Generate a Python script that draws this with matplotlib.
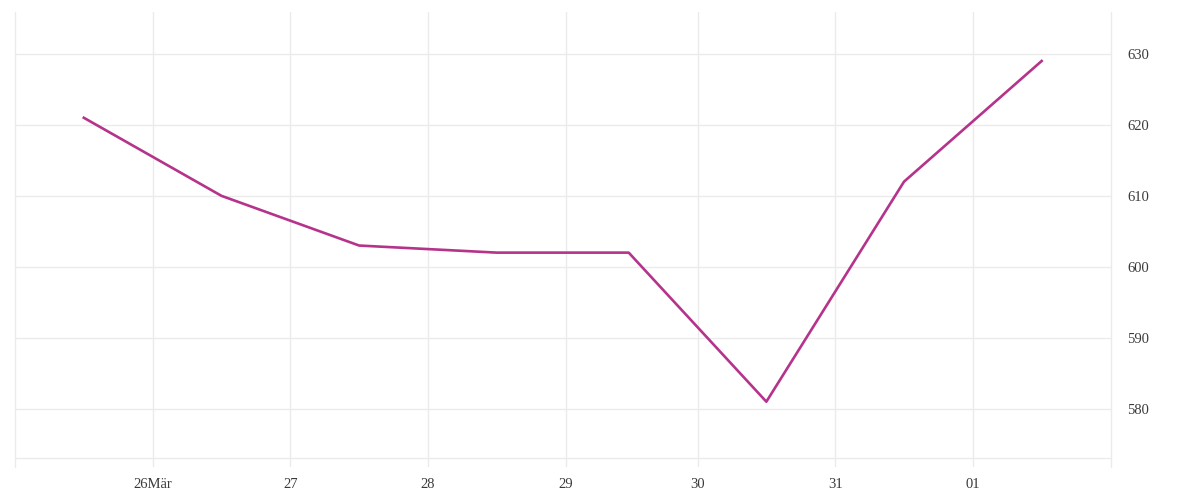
import matplotlib
matplotlib.use("Agg")
import matplotlib.pyplot as plt
from datetime import datetime

# Data (timestamps as placed on the axis, UTC; local clock change shifts later points by 1h)
dates = [datetime(2025, 3, 25, 12), datetime(2025, 3, 26, 12), datetime(2025, 3, 27, 12),
         datetime(2025, 3, 28, 12), datetime(2025, 3, 29, 11), datetime(2025, 3, 30, 11),
         datetime(2025, 3, 31, 11), datetime(2025, 4, 1, 11)]
values = [621, 610, 603, 602, 602, 581, 612, 629]
tick_dates = [datetime(2025, 3, 26, 0), datetime(2025, 3, 27, 0), datetime(2025, 3, 28, 0),
              datetime(2025, 3, 29, 0), datetime(2025, 3, 29, 23), datetime(2025, 3, 30, 23),
              datetime(2025, 3, 31, 23)]
tick_labels = ["26Mär", "27", "28", "29", "30", "31", "01"]
y_ticks = [580, 590, 600, 610, 620, 630]

fig = plt.figure(figsize=(12, 5), dpi=100)
ax = fig.add_axes([15/1200, (500-467)/500, (1110.5-15)/1200, (467-12)/500])

ax.plot(dates, values, color="#b5338a", linewidth=1.9, solid_joinstyle="round", zorder=3)

ax.set_xlim(datetime(2025, 3, 25, 0), datetime(2025, 4, 1, 23))
ax.set_ylim(571.8, 635.9)

ax.set_xticks(tick_dates)
ax.set_xticklabels(tick_labels)
ax.set_yticks(y_ticks)
ax.yaxis.tick_right()

gc = "#ebebeb"
ax.grid(True, color=gc, linewidth=1)
ax.axhline(573.1, color=gc, linewidth=1, zorder=1)
for s in ["top", "bottom"]:
    ax.spines[s].set_visible(False)
for s in ["left", "right"]:
    ax.spines[s].set_color(gc)
    ax.spines[s].set_linewidth(1)

ax.tick_params(axis="both", length=0, colors="#3a3a3a", labelsize=10.5)
ax.tick_params(axis="y", pad=12)
ax.tick_params(axis="x", pad=8)
for lab in ax.get_xticklabels() + ax.get_yticklabels():
    lab.set_fontfamily("Liberation Serif")

fig.savefig("out.png", dpi=100, facecolor="white")
